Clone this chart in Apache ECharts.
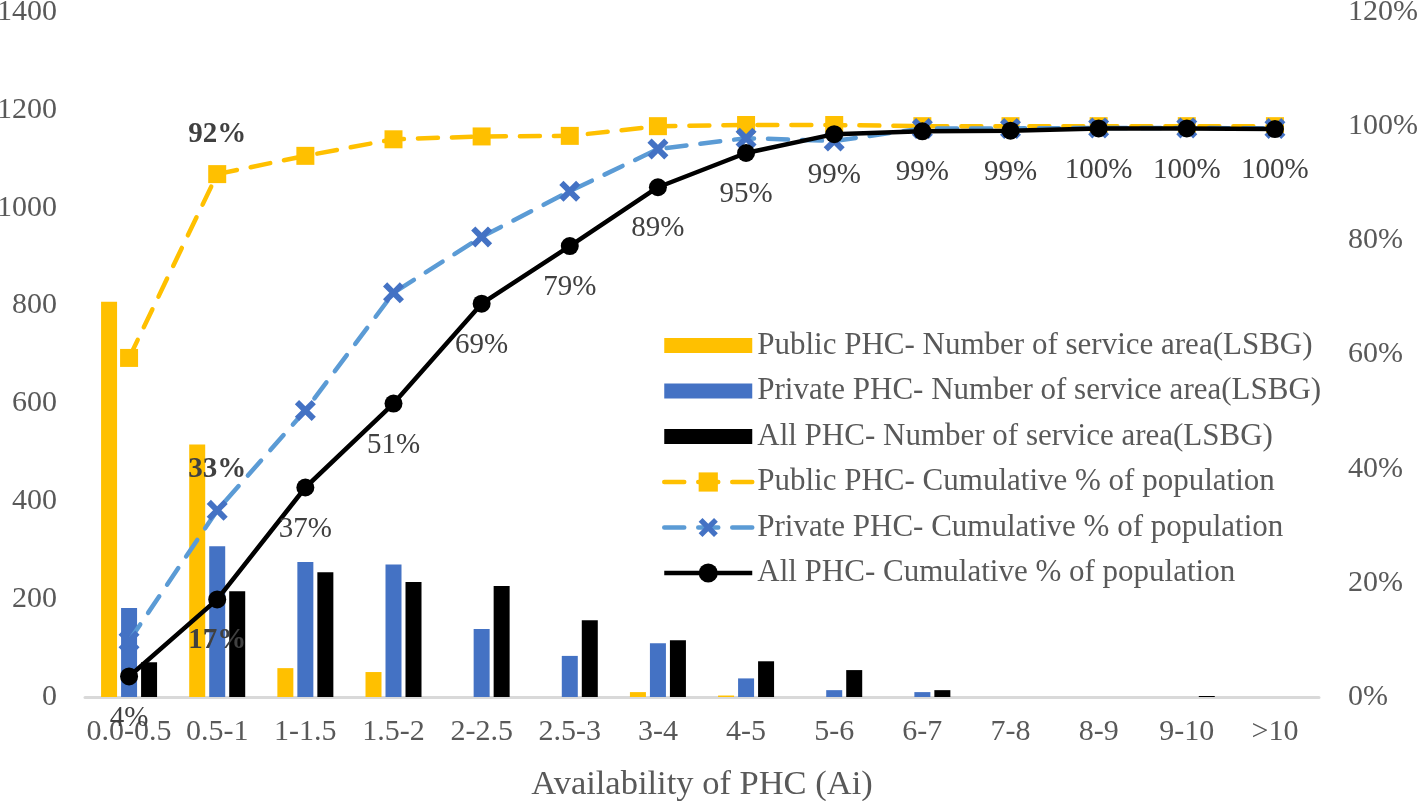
<!DOCTYPE html>
<html>
<head>
<meta charset="utf-8">
<script src="https://cdn.jsdelivr.net/npm/echarts@6/dist/echarts.min.js"></script>
<style>
html,body{margin:0;padding:0;background:#fff;}
#chart{width:1417px;height:801px;}
</style>
</head>
<body>
<div id="chart"></div>
<script>
const categories = ['0.0-0.5','0.5-1','1-1.5','1.5-2','2-2.5','2.5-3','3-4','4-5','5-6','6-7','7-8','8-9','9-10','>10'];
const publicCount = [808, 516, 59, 51, 0, 0, 10, 3, 0, 0, 0, 0, 0, 0];
const privateCount = [182, 308, 276, 271, 139, 84, 110, 38, 14, 10, 0, 0, 0, 0];
const allCount = [71, 216, 255, 235, 227, 157, 116, 73, 55, 14, 0, 0, 2, 0];
const publicCum = [59.4, 91.6, 94.8, 97.7, 98.2, 98.3, 100, 100.2, 100.2, 100, 100, 100, 100, 100];
const privateCum = [9.8, 32.7, 50.2, 70.8, 80.6, 88.6, 96.0, 97.9, 97.4, 99.6, 99.6, 99.7, 99.7, 99.6];
const allCum = [3.6, 17.1, 36.7, 51.4, 68.9, 79.0, 89.3, 95.3, 98.6, 99.1, 99.2, 99.6, 99.6, 99.5];
const leftTicks = {min: 0, max: 1400, interval: 200};
const rightTicks = {min: 0, max: 120, interval: 20};

const FONT = 'Liberation Serif';
const GRAY = '#595959';
const LABEL = '#404040';
const xPath = 'path://M0,2 L2,0 L5,3 L8,0 L10,2 L7,5 L10,8 L8,10 L5,7 L2,10 L0,8 L3,5 Z';
const barIcon = 'path://M0,0 L88,0 L88,15 L0,15 Z';

const chart = echarts.init(document.getElementById('chart'), null, {renderer: 'canvas'});
chart.setOption({
  animation: false,
  backgroundColor: '#ffffff',
  textStyle: {fontFamily: FONT},
  grid: {left: 85, right: 98, top: 12, bottom: 104, containLabel: false, outerBoundsMode: 'none'},
  legend: {
    orient: 'vertical',
    left: 657,
    top: 325,
    itemWidth: 88,
    itemHeight: 24,
    itemGap: 14.5,
    symbolKeepAspect: true,
    lineStyle: {width: 4.5},
    textStyle: {fontFamily: FONT, fontSize: 31, color: GRAY, lineHeight: 31},
    data: [
      {name: 'Public PHC- Number of service area(LSBG)', icon: barIcon},
      {name: 'Private PHC- Number of service area(LSBG)', icon: barIcon},
      {name: 'All PHC- Number of service area(LSBG)', icon: barIcon},
      {name: 'Public PHC- Cumulative % of population'},
      {name: 'Private PHC- Cumulative % of population'},
      {name: 'All PHC- Cumulative % of population'}
    ]
  },
  xAxis: {
    type: 'category',
    data: categories,
    boundaryGap: true,
    axisTick: {show: false},
    axisLine: {lineStyle: {color: '#D9D9D9', width: 3}},
    axisLabel: {fontFamily: FONT, fontSize: 30, color: GRAY, margin: 20, interval: 0},
    name: 'Availability of PHC (Ai)',
    nameLocation: 'middle',
    nameGap: 70,
    nameTextStyle: {fontFamily: FONT, fontSize: 34.5, color: GRAY}
  },
  yAxis: [
    {
      type: 'value',
      min: leftTicks.min, max: leftTicks.max, interval: leftTicks.interval,
      splitLine: {show: false},
      axisLine: {show: false},
      axisTick: {show: false},
      axisLabel: {fontFamily: FONT, fontSize: 30, color: GRAY, margin: 28, formatter: v => String(v)}
    },
    {
      type: 'value',
      min: rightTicks.min, max: rightTicks.max, interval: rightTicks.interval,
      splitLine: {show: false},
      axisLine: {show: false},
      axisTick: {show: false},
      axisLabel: {fontFamily: FONT, fontSize: 30, color: GRAY, margin: 29, formatter: '{value}%'}
    }
  ],
  series: [
    {
      name: 'Public PHC- Number of service area(LSBG)',
      type: 'bar', yAxisIndex: 0, data: publicCount,
      barWidth: 16, barGap: '25%',
      itemStyle: {color: '#FFC000'}
    },
    {
      name: 'Private PHC- Number of service area(LSBG)',
      type: 'bar', yAxisIndex: 0, data: privateCount,
      barWidth: 16, barGap: '25%',
      itemStyle: {color: '#4472C4'}
    },
    {
      name: 'All PHC- Number of service area(LSBG)',
      type: 'bar', yAxisIndex: 0, data: allCount,
      barWidth: 16, barGap: '25%',
      itemStyle: {color: '#000000'}
    },
    {
      name: 'Public PHC- Cumulative % of population',
      type: 'line', yAxisIndex: 1,
      data: publicCum.map((v, i) => i === 1 ? {value: v, label: {show: true}} : v),
      symbol: 'rect', symbolSize: 18,
      itemStyle: {color: '#FFC000'},
      lineStyle: {color: '#FFC000', width: 4.5, type: [20, 14], cap: 'round'},
      label: {show: false, position: 'top', distance: 16, fontFamily: FONT, fontSize: 29, fontWeight: 'bold', color: LABEL,
        formatter: p => Math.round(p.value) + '%'},
      z: 3
    },
    {
      name: 'Private PHC- Cumulative % of population',
      type: 'line', yAxisIndex: 1,
      data: privateCum.map((v, i) => i === 1 ? {value: v, label: {show: true}} : v),
      symbol: xPath, symbolSize: 21,
      itemStyle: {color: '#4472C4'},
      lineStyle: {color: '#5B9BD5', width: 4.5, type: [20, 14], cap: 'round'},
      label: {show: false, position: 'top', distance: 16, fontFamily: FONT, fontSize: 29, fontWeight: 'bold', color: LABEL,
        formatter: p => Math.round(p.value) + '%'},
      z: 4
    },
    {
      name: 'All PHC- Cumulative % of population',
      type: 'line', yAxisIndex: 1,
      data: allCum.map((v, i) => i === 1 ? {value: v, label: {fontWeight: 'bold'}} : v),
      symbol: 'circle', symbolSize: 18,
      itemStyle: {color: '#000000'},
      lineStyle: {color: '#000000', width: 4.5},
      label: {show: true, position: 'bottom', distance: 18, fontFamily: FONT, fontSize: 29, color: LABEL,
        formatter: p => Math.round(p.value) + '%'},
      z: 5
    }
  ]
});
</script>
</body>
</html>
